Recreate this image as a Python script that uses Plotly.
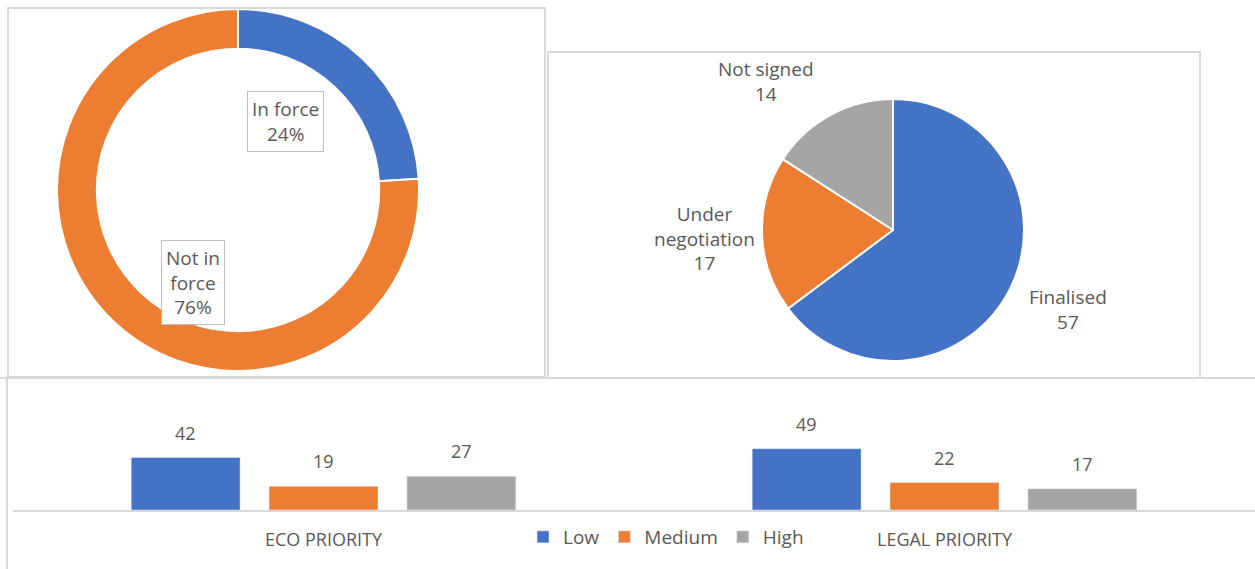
import plotly.graph_objects as go

W, H = 1255, 569

# Donut data
donut_labels = ["In force", "Not in force"]
donut_values = [24, 76]
donut_text = ["In force<br>24%", "Not in<br>force<br>76%"]

# Pie data
pie_labels = ["Finalised", "Under negotiation", "Not signed"]
pie_values = [57, 17, 14]
pie_text = ["Finalised<br>57", "Under<br>negotiation<br>17", "Not signed<br>14"]

# Bar data
bar_categories = ["ECO PRIORITY", "LEGAL PRIORITY"]
bar_series = ["Low", "Medium", "High"]
bar_low = [42, 49]
bar_medium = [19, 22]
bar_high = [27, 17]

BLUE, ORANGE, GRAY = "#4472C4", "#ED7D31", "#A5A5A5"
TXT = "#595959"
FONT = "Open Sans, Liberation Sans, sans-serif"
BORDER = "#d9d9d9"
BARGAP = 0.334


def px(x):
    return x / W


def py(y):
    return 1 - y / H


fig = go.Figure()

fig.add_trace(go.Pie(
    labels=donut_labels, values=donut_values, hole=0.78, sort=False,
    direction="clockwise", rotation=0, textinfo="none",
    marker=dict(colors=[BLUE, ORANGE], line=dict(color="white", width=2)),
    domain=dict(x=[px(57), px(419)], y=[py(371), py(9)]),
    showlegend=False, hoverinfo="label+percent",
))

fig.add_trace(go.Pie(
    labels=pie_labels, values=pie_values, sort=False,
    direction="clockwise", rotation=0, textinfo="none",
    marker=dict(colors=[BLUE, ORANGE, GRAY], line=dict(color="white", width=2)),
    domain=dict(x=[px(762), px(1024)], y=[py(361), py(99)]),
    showlegend=False, hoverinfo="label+value",
))

series_vals = [bar_low, bar_medium, bar_high]
for name, vals, col in zip(bar_series, series_vals, [BLUE, ORANGE, GRAY]):
    fig.add_trace(go.Bar(
        x=bar_categories, y=vals, name=name, marker=dict(color=col),
        xaxis="x", yaxis="y",
    ))

# Bar value labels, placed at each bar's group slot
n = len(bar_series)
slot = (1 - BARGAP) / n
for i, vals in enumerate(series_vals):
    for c, v in enumerate(vals):
        fig.add_annotation(
            x=c + (i - (n - 1) / 2) * slot, y=v, xref="x", yref="y",
            text=str(v), showarrow=False, xanchor="center", yanchor="middle",
            yshift=25, font=dict(color=TXT, size=18, family=FONT),
        )

# Donut labels (boxed)
donut_pos = [(285, 121), (193, 282)]
for t, (x, y) in zip(donut_text, donut_pos):
    fig.add_annotation(
        x=px(x), y=py(y), xref="paper", yref="paper", text=t, showarrow=False,
        xanchor="center", yanchor="middle",
        font=dict(color=TXT, size=19, family=FONT), bgcolor="white",
        bordercolor="#bfbfbf", borderwidth=1, borderpad=4,
    )

# Pie labels
pie_pos = [(1068, 309), (704, 238), (766, 82)]
for t, (x, y) in zip(pie_text, pie_pos):
    fig.add_annotation(
        x=px(x), y=py(y), xref="paper", yref="paper", text=t, showarrow=False,
        xanchor="center", yanchor="middle",
        font=dict(color=TXT, size=19, family=FONT),
    )

# Panel borders
shapes = [
    dict(type="rect", x0=px(8), x1=px(545), y0=py(377), y1=py(8)),
    dict(type="rect", x0=px(548), x1=px(1200), y0=py(378), y1=py(52)),
    dict(type="line", x0=px(0), x1=px(1255), y0=py(378), y1=py(378)),
    dict(type="line", x0=px(7), x1=px(7), y0=py(378), y1=py(569)),
]
for s in shapes:
    s.update(xref="paper", yref="paper", line=dict(color=BORDER, width=2))
    fig.add_shape(**s)

fig.update_layout(
    width=W, height=H, margin=dict(l=0, r=0, t=0, b=0),
    paper_bgcolor="white", plot_bgcolor="white",
    barmode="group", bargap=BARGAP, bargroupgap=0.21,
    font=dict(family=FONT, color=TXT, size=14),
    xaxis=dict(domain=[px(13), 1.0], anchor="y", showgrid=False,
               showline=True, linecolor=BORDER, linewidth=1.5,
               ticks="outside", ticklen=13, tickcolor="rgba(0,0,0,0)",
               tickfont=dict(color=TXT, size=18, family=FONT)),
    yaxis=dict(domain=[py(510), py(380)], anchor="x", range=[0, 104],
               visible=False),
    legend=dict(orientation="h", x=px(666), y=py(537), xanchor="center",
                yanchor="middle", font=dict(color=TXT, size=19, family=FONT),
                itemwidth=30, tracegroupgap=0, bgcolor="rgba(0,0,0,0)"),
)

fig.write_html("out.html", config={"displayModeBar": False},
               post_script="document.body.style.margin='0';")
